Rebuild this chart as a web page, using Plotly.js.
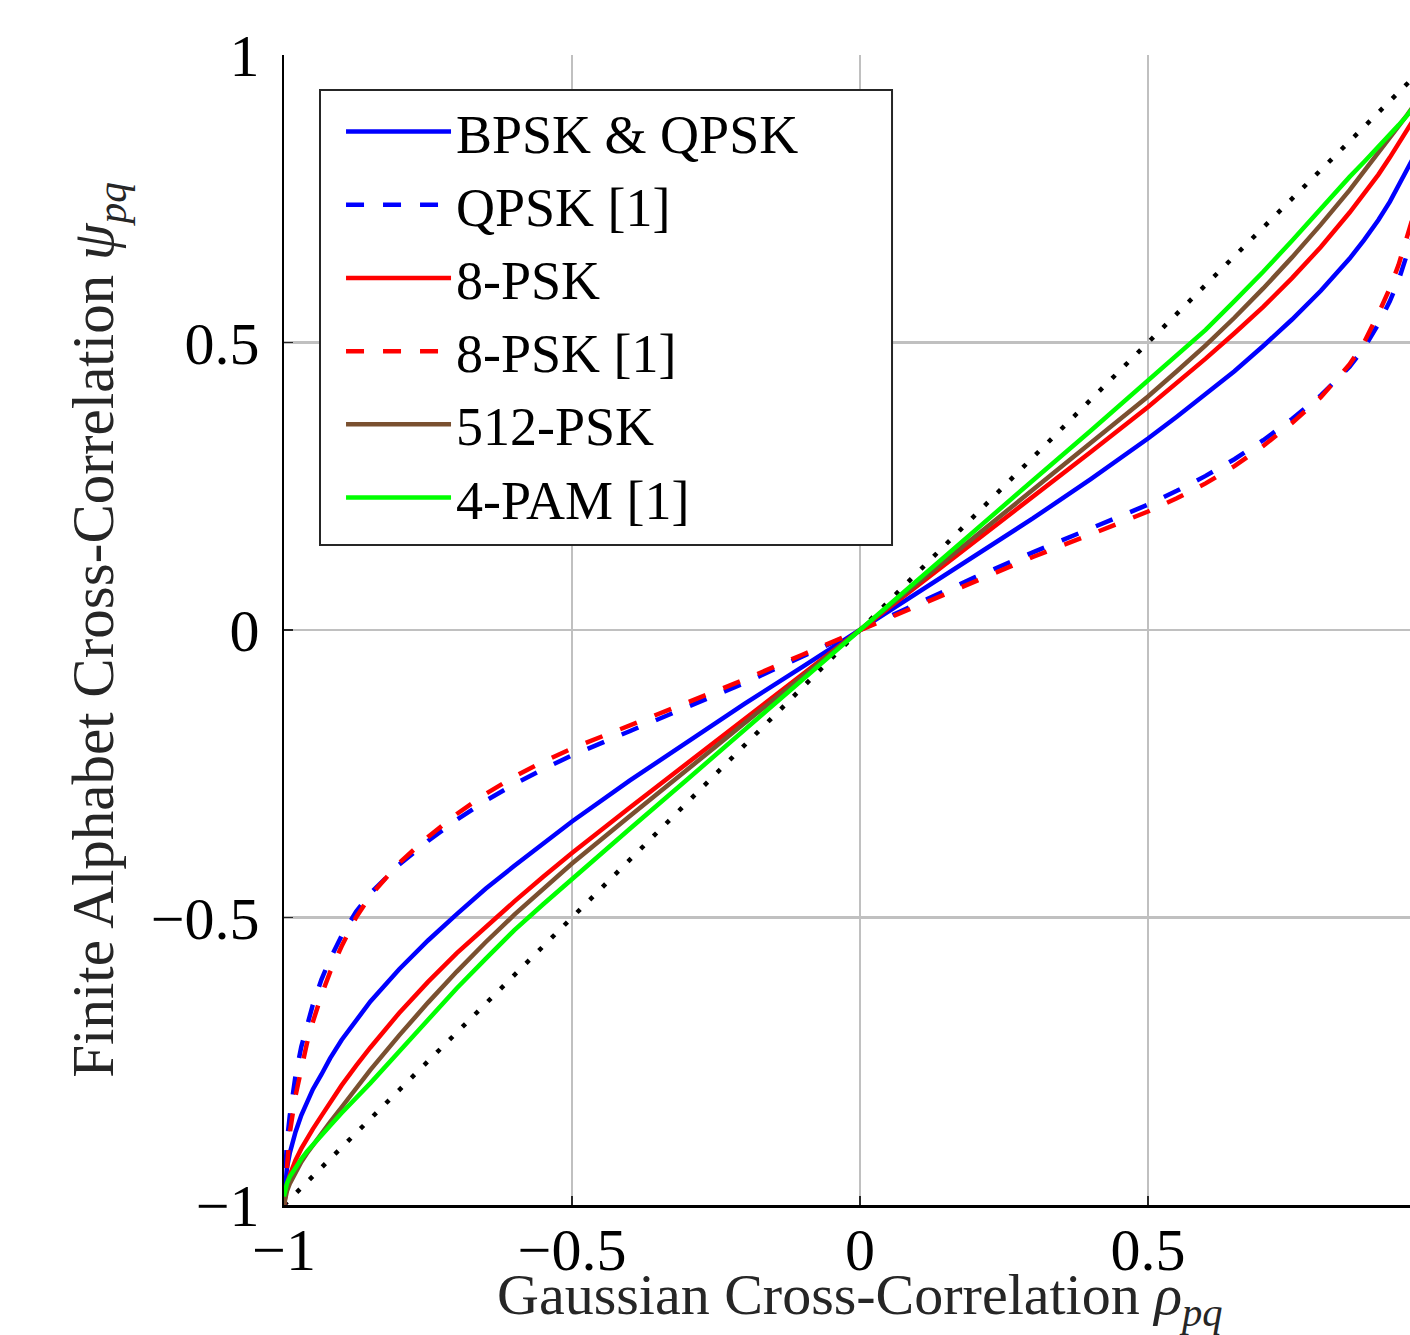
<!DOCTYPE html>
<html>
<head>
<meta charset="utf-8">
<script src="https://cdn.plot.ly/plotly-3.0.1.min.js"></script>
<style>
html, body { margin:0; padding:0; overflow:hidden; background:#ffffff; }
#chart { width:1460px; height:1335px; }
</style>
</head>
<body>
<div id="chart"></div>
<script>
// Gaussian cross-correlation samples (x axis)
const rho = [-1, -0.995, -0.99, -0.98, -0.97, -0.96, -0.95, -0.935, -0.92, -0.9, -0.875, -0.85, -0.8, -0.75, -0.7, -0.65, -0.6, -0.55, -0.5, -0.4, -0.3, -0.2, -0.1, 0,
             0.1, 0.2, 0.3, 0.4, 0.5, 0.55, 0.6, 0.65, 0.7, 0.75, 0.8, 0.85, 0.875, 0.9, 0.92, 0.935, 0.95, 0.96, 0.97, 0.98, 0.99, 0.995, 1];

// BPSK & QPSK (solid blue)
const bpskQpsk = [-1, -0.936, -0.910, -0.873, -0.844, -0.820, -0.799, -0.773, -0.745, -0.713, -0.678, -0.646, -0.590, -0.540, -0.494, -0.450, -0.410, -0.371, -0.333, -0.262, -0.194, -0.128, -0.064, 0,
                  0.064, 0.128, 0.194, 0.262, 0.333, 0.371, 0.410, 0.450, 0.494, 0.540, 0.590, 0.646, 0.678, 0.713, 0.745, 0.773, 0.799, 0.820, 0.844, 0.873, 0.910, 0.936, 1];
// QPSK [1] (dashed blue)
const qpskRef = [-1, -0.890, -0.845, -0.775, -0.725, -0.685, -0.652, -0.608, -0.572, -0.532, -0.490, -0.458, -0.408, -0.367, -0.330, -0.297, -0.268, -0.242, -0.218, -0.176, -0.135, -0.092, -0.046, 0,
                 0.046, 0.092, 0.135, 0.176, 0.218, 0.242, 0.268, 0.297, 0.330, 0.367, 0.408, 0.458, 0.490, 0.532, 0.572, 0.608, 0.652, 0.685, 0.725, 0.775, 0.845, 0.890, 1];
// 8-PSK (solid red)
const psk8 = [-1, -0.965, -0.948, -0.922, -0.902, -0.884, -0.868, -0.845, -0.822, -0.792, -0.758, -0.726, -0.666, -0.612, -0.562, -0.516, -0.472, -0.429, -0.388, -0.309, -0.232, -0.154, -0.077, 0,
              0.077, 0.154, 0.232, 0.309, 0.388, 0.429, 0.472, 0.516, 0.562, 0.612, 0.666, 0.726, 0.758, 0.792, 0.822, 0.845, 0.868, 0.884, 0.902, 0.922, 0.948, 0.965, 1];
// 8-PSK [1] (dashed red)
const psk8Ref = [-1, -0.925, -0.875, -0.810, -0.760, -0.718, -0.682, -0.635, -0.595, -0.550, -0.500, -0.462, -0.405, -0.360, -0.320, -0.285, -0.255, -0.229, -0.206, -0.166, -0.127, -0.086, -0.043, 0,
                 0.043, 0.086, 0.127, 0.166, 0.206, 0.229, 0.255, 0.285, 0.320, 0.360, 0.405, 0.462, 0.500, 0.550, 0.595, 0.635, 0.682, 0.718, 0.760, 0.810, 0.875, 0.925, 1];
// 512-PSK (solid brown)
const psk512 = [-1, -0.976, -0.963, -0.943, -0.925, -0.910, -0.896, -0.876, -0.856, -0.830, -0.797, -0.765, -0.705, -0.648, -0.594, -0.543, -0.495, -0.450, -0.406, -0.324, -0.243, -0.162, -0.081, 0,
                0.081, 0.162, 0.243, 0.324, 0.406, 0.450, 0.495, 0.543, 0.594, 0.648, 0.705, 0.765, 0.797, 0.830, 0.856, 0.876, 0.896, 0.910, 0.925, 0.943, 0.963, 0.976, 1];
// 4-PAM [1] (solid green)
const pam4 = [-0.985, -0.963, -0.951, -0.934, -0.920, -0.907, -0.895, -0.878, -0.862, -0.840, -0.814, -0.788, -0.733, -0.677, -0.623, -0.572, -0.522, -0.477, -0.433, -0.346, -0.260, -0.173, -0.087, 0,
              0.087, 0.173, 0.260, 0.346, 0.433, 0.477, 0.522, 0.572, 0.623, 0.677, 0.733, 0.788, 0.814, 0.840, 0.862, 0.878, 0.895, 0.907, 0.920, 0.934, 0.951, 0.963, 0.985];

// Reference diagonal psi = rho (dotted black)
const diagX = [-1, 1];
const diagY = [-1, 1];

const seriesNames = ['BPSK & QPSK', 'QPSK [1]', '8-PSK', '8-PSK [1]', '512-PSK', '4-PAM [1]'];
const xTickVals = [-1, -0.5, 0, 0.5];
const xTickText = ['\u22121', '\u22120.5', '0', '0.5'];
const yTickVals = [-1, -0.5, 0, 0.5, 1];
const yTickText = ['\u22121', '\u22120.5', '0', '0.5', '1'];
const xTitle = 'Gaussian Cross-Correlation <i>\u03c1<sub>pq</sub></i>';
const yTitle = 'Finite Alphabet Cross-Correlation <i>\u03c8<sub>pq</sub></i>';

const FONT = '"Liberation Serif", "DejaVu Serif", serif';
const LW = 4.5;

const traces = [
  {x: diagX, y: diagY, mode: 'lines', showlegend: false, hoverinfo: 'skip',
   line: {color: '#000000', width: 4.5, dash: '4.5px,13.5px'}},
  {x: rho, y: bpskQpsk, mode: 'lines', name: seriesNames[0], line: {color: '#0000ff', width: LW}},
  {x: rho, y: qpskRef, mode: 'lines', name: seriesNames[1], line: {color: '#0000ff', width: LW, dash: '18px,19px'}},
  {x: rho, y: psk8, mode: 'lines', name: seriesNames[2], line: {color: '#ff0000', width: LW}},
  {x: rho, y: psk8Ref, mode: 'lines', name: seriesNames[3], line: {color: '#ff0000', width: LW, dash: '18px,19px'}},
  {x: rho, y: psk512, mode: 'lines', name: seriesNames[4], line: {color: '#7a5030', width: LW}},
  {x: rho, y: pam4, mode: 'lines', name: seriesNames[5], line: {color: '#00ff00', width: LW}}
];

const axisCommon = {
  range: [-1, 1],
  tickmode: 'array',
  showgrid: true,
  gridcolor: '#c0c0c0',
  gridwidth: 2.5,
  zeroline: false,
  showline: true,
  linecolor: '#000000',
  linewidth: 2.5,
  ticks: 'inside',
  ticklen: 9,
  tickwidth: 1.5,
  tickcolor: '#262626',
  tickfont: {family: FONT, size: 60, color: '#000000'},
  mirror: false,
  fixedrange: true
};

const layout = {
  width: 1460,
  height: 1335,
  margin: {l: 284, r: 24, t: 55, b: 130},
  paper_bgcolor: '#ffffff',
  plot_bgcolor: '#ffffff',
  showlegend: true,
  xaxis: Object.assign({}, axisCommon, {
    tickvals: xTickVals,
    ticktext: xTickText,
    ticklabelstandoff: -10
  }),
  yaxis: Object.assign({}, axisCommon, {
    tickvals: yTickVals,
    ticktext: yTickText,
    ticklabelstandoff: 10,
    title: {text: yTitle, font: {family: FONT, size: 59, color: '#262626'}, standoff: 18}
  }),
  annotations: [
    {text: xTitle, xref: 'paper', yref: 'paper', x: 0.5, y: -0.081,
     xanchor: 'center', yanchor: 'middle', showarrow: false,
     font: {family: FONT, size: 58, color: '#262626'}}
  ],
  shapes: [
    {type: 'rect', xref: 'paper', yref: 'paper', layer: 'above',
     x0: 0.03125, x1: 0.5278, y0: 0.5739, y1: 0.9696,
     fillcolor: '#ffffff', line: {color: '#262626', width: 2}}
  ],
  legend: {
    x: 0.0495, y: 0.9696, xanchor: 'left', yanchor: 'top',
    bgcolor: 'rgba(0,0,0,0)', borderwidth: 0,
    font: {family: FONT, size: 54, color: '#000000'},
    itemwidth: 105,
    tracegroupgap: 0
  }
};

Plotly.newPlot('chart', traces, layout, {displayModeBar: false, staticPlot: true});
</script>
</body>
</html>
